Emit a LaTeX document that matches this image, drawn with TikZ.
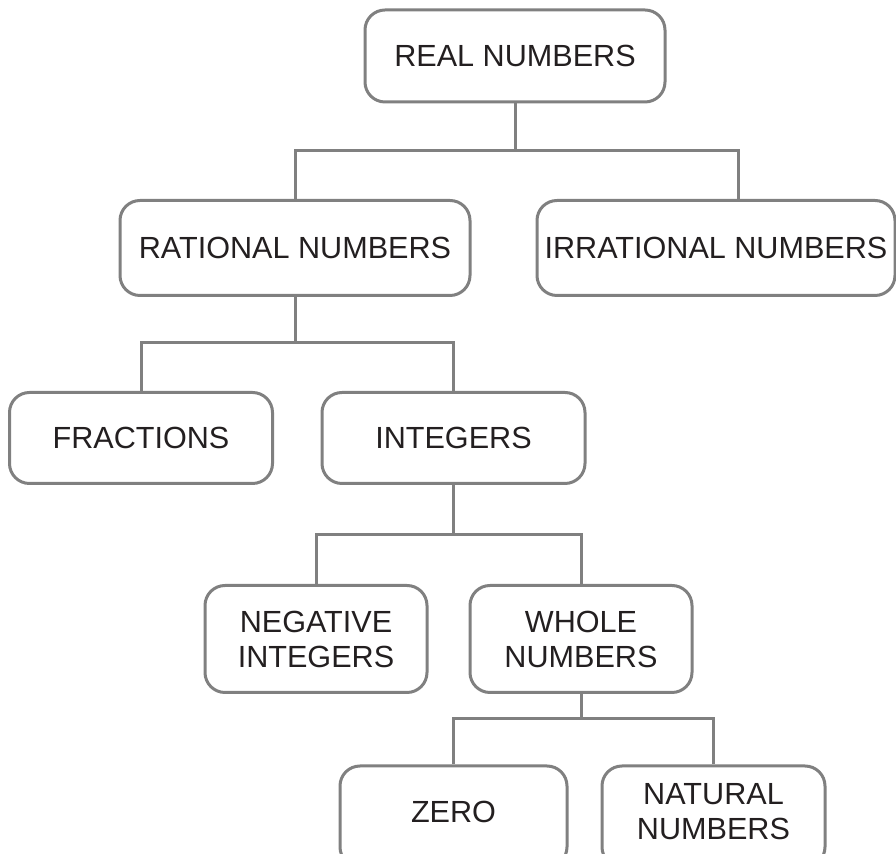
\documentclass[tikz,border=0pt]{standalone}
\usepackage{fontspec}
\setmainfont{Liberation Sans}
\definecolor{linegray}{RGB}{128,128,128}
\definecolor{textgray}{RGB}{35,31,32}

\begin{document}
\begin{tikzpicture}[x=0.5pt,y=-0.5pt,
  numbox/.style={draw=linegray, line width=1.5pt, rounded corners=10pt,
    align=center, inner sep=0pt, text=textgray,
    font=\fontsize{15.3}{17.5}\selectfont},
  link/.style={draw=linegray, line width=1.5pt}]
 \useasboundingbox (0,0) rectangle (896,854);
 \clip (0,0) rectangle (896,854);
 \node[numbox, minimum width=150pt, minimum height=46pt] (real) at (515,56) {REAL NUMBERS};
 \node[numbox, minimum width=175pt, minimum height=47.5pt] (rat) at (295,248) {RATIONAL NUMBERS};
 \node[numbox, minimum width=179pt, minimum height=47.5pt] (irr) at (716,248) {IRRATIONAL NUMBERS};
 \node[numbox, minimum width=131.5pt, minimum height=45.5pt] (frac) at (141,438) {FRACTIONS};
 \node[numbox, minimum width=131.5pt, minimum height=45.5pt] (int) at (453.5,438) {INTEGERS};
 \node[numbox, minimum width=111pt, minimum height=53.5pt] (neg) at (316,639) {NEGATIVE\\INTEGERS};
 \node[numbox, minimum width=111pt, minimum height=53.5pt] (whole) at (581,639) {WHOLE\\NUMBERS};
 \node[numbox, minimum width=113.5pt, minimum height=50.5pt, text depth=5pt] (zero) at (453.5,816.5) {ZERO};
 \node[numbox, minimum width=111.5pt, minimum height=50.5pt, text depth=5pt] (nat) at (713.5,816.5) {NATURAL\\NUMBERS};
 \coordinate (j1) at (515,151);
 \coordinate (j2) at (295,343);
 \coordinate (j3) at (453.5,535);
 \coordinate (j4) at (581,719);
 \draw[link] (real.south) -- (j1) -| (rat.north);
 \draw[link] (j1) -| ([xshift=11pt]irr.north);
 \draw[link] (rat.south) -- (j2) -| (frac.north);
 \draw[link] (j2) -| (int.north);
 \draw[link] (int.south) -- (j3) -| (neg.north);
 \draw[link] (j3) -| (whole.north);
 \draw[link] (whole.south) -- (j4) -| (zero.north);
 \draw[link] (j4) -| (nat.north);
\end{tikzpicture}
\end{document}
